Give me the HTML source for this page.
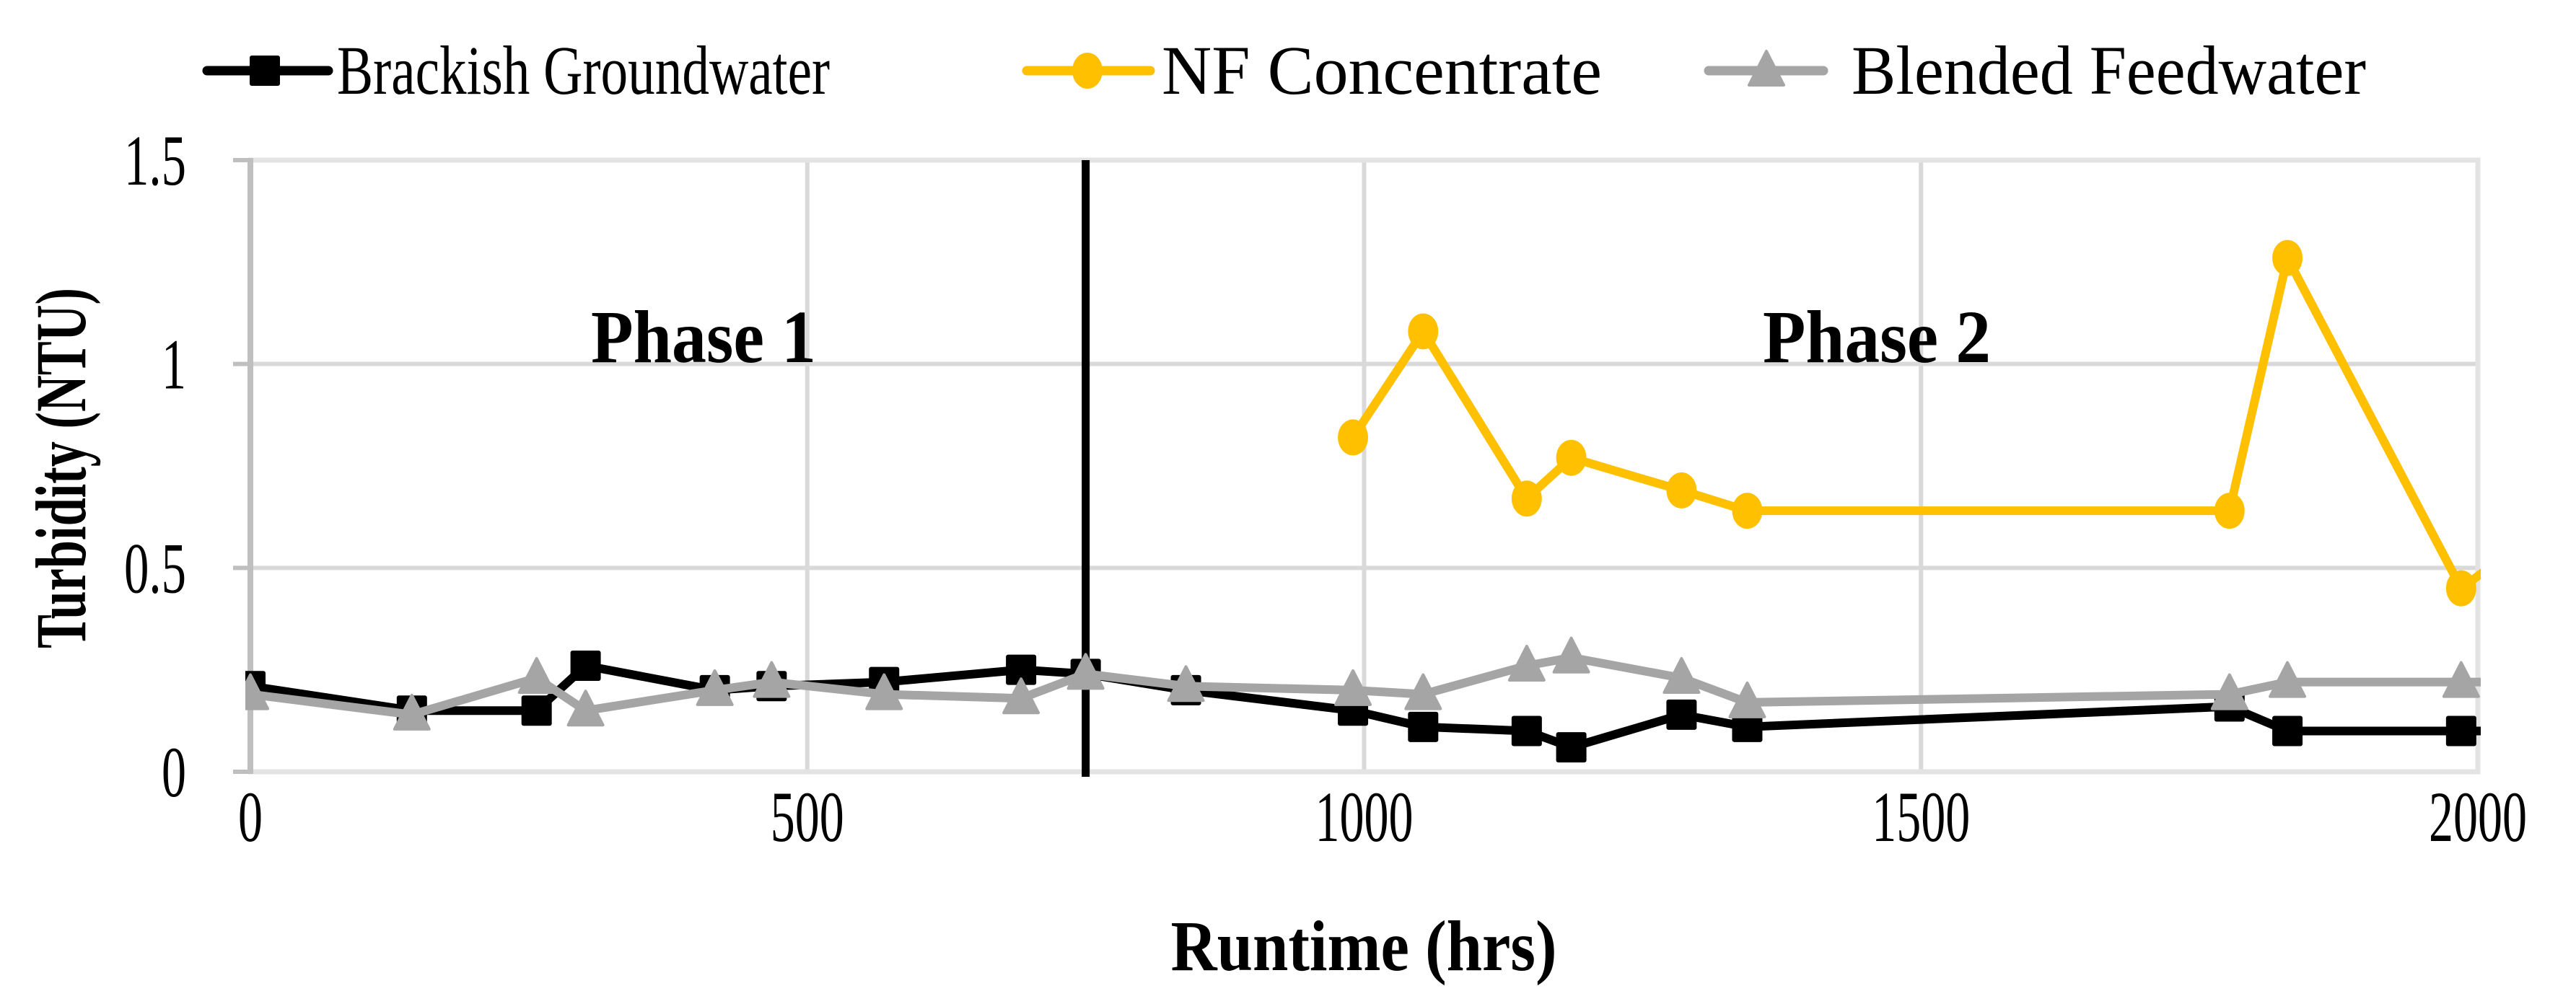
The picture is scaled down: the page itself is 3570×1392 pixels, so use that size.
<!DOCTYPE html>
<html><head><meta charset="utf-8"><style>
html,body{margin:0;padding:0;background:#fff;}
svg{display:block;}
text{font-family:"Liberation Serif",serif;}
</style></head><body>
<svg id="chart" width="3570" height="1392" viewBox="0 0 3570 1392">
<defs><clipPath id="plotclip"><rect x="340" y="215" width="3098" height="862"/></clipPath></defs>
<g id="grid"></g>
<g id="axes"></g>
<g id="series" clip-path="url(#plotclip)"></g>
<g id="labels"></g>
<g id="legend"></g>
</svg>
<script>
const xTicks = [0, 500, 1000, 1500, 2000];
const yTicks = [0, 0.5, 1, 1.5];
const yTickLabels = ["0", "0.5", "1", "1.5"];
const phaseBoundary = 750;
const bgX = [0,145,257,301,417,468,569,692,750,840,990,1053,1146,1186,1285,1344,1777,1829,1985,2040];
const bgY = [0.21,0.15,0.15,0.26,0.20,0.21,0.22,0.25,0.24,0.20,0.15,0.11,0.10,0.06,0.14,0.11,0.16,0.10,0.10,0.10];
const nfX = [990,1053,1146,1186,1285,1344,1777,1829,1985,2040];
const nfY = [0.82,1.08,0.67,0.77,0.69,0.64,0.64,1.26,0.45,0.56];
const blX = [0,145,257,301,417,468,569,692,750,840,990,1053,1146,1186,1285,1344,1777,1829,1985,2040];
const blY = [0.19,0.14,0.23,0.15,0.20,0.22,0.19,0.18,0.24,0.21,0.20,0.19,0.26,0.28,0.23,0.17,0.19,0.22,0.22,0.22];

const NS = "http://www.w3.org/2000/svg";
const X0 = 347, X1 = 3434, Y0 = 1070, Y1 = 222;
function sx(v){ return X0 + (v - 0) / 2000 * (X1 - X0); }
function sy(v){ return Y0 - v / 1.5 * (Y0 - Y1); }
function mk(tag, attrs, parent){
  const e = document.createElementNS(NS, tag);
  for (const k in attrs) e.setAttribute(k, attrs[k]);
  parent.appendChild(e);
  return e;
}
function numWidth(s){ let w = 0; for (const c of s) w += (c === '.') ? 18 : 34; return w; }
const grid = document.getElementById('grid');
const axes = document.getElementById('axes');
const series = document.getElementById('series');
const labels = document.getElementById('labels');
const legend = document.getElementById('legend');

yTicks.forEach((t, i) => {
  const l = mk('line', {x1: X0, x2: X1, y1: sy(t), y2: sy(t), stroke: '#d9d9d9', 'stroke-width': 6}, grid);
  
  
  const tk = mk('line', {x1: X0 - 24, x2: X0, y1: sy(t), y2: sy(t), stroke: '#bfbfbf', 'stroke-width': 6}, axes);
  
  
  const s = yTickLabels[i];
  const tx = mk('text', {x: 258, y: sy(t) + 34, 'text-anchor': 'end', 'font-size': 100, fill: '#000', textLength: numWidth(s), lengthAdjust: 'spacingAndGlyphs'}, labels);
  tx.textContent = s;
  
  
});
xTicks.forEach(t => {
  const l = mk('line', {x1: sx(t), x2: sx(t), y1: Y1, y2: Y0, stroke: '#d9d9d9', 'stroke-width': 6}, grid);
  
  
  const s = String(t);
  const tx = mk('text', {x: sx(t), y: 1166, 'text-anchor': 'middle', 'font-size': 100, fill: '#000', textLength: numWidth(s), lengthAdjust: 'spacingAndGlyphs'}, labels);
  tx.textContent = s;
  
  
});
const border = mk('rect', {x: X0, y: Y1, width: X1 - X0, height: Y0 - Y1, fill: 'none', stroke: '#e3e3e3', 'stroke-width': 7}, axes);


const yAxis = mk('line', {x1: X0, x2: X0, y1: Y1 - 3, y2: Y0 + 3, stroke: '#bfbfbf', 'stroke-width': 8}, axes);



const pb = mk('line', {x1: sx(phaseBoundary), x2: sx(phaseBoundary), y1: Y1, y2: Y0 + 8, stroke: '#000', 'stroke-width': 11}, series);



function marker(g, kind, cx, cy, color){
  if (kind === 'square') return mk('rect', {x: cx - 21, y: cy - 21, width: 42, height: 42, rx: 3, fill: color}, g);
  if (kind === 'circle') return mk('ellipse', {cx: cx, cy: cy, rx: 21, ry: 25, fill: color}, g);
  return mk('polygon', {points: cx + ',' + (cy - 27) + ' ' + (cx + 24) + ',' + (cy + 20) + ' ' + (cx - 24) + ',' + (cy + 20), fill: color, stroke: color, 'stroke-width': 4, 'stroke-linejoin': 'round'}, g);
}
function drawSeries(xs, ys, color, kind, name){
  const g = mk('g', {}, series);
  
  
  const pts = xs.map((x, i) => sx(x) + ',' + sy(ys[i])).join(' ');
  const pl = mk('polyline', {points: pts, fill: 'none', stroke: color, 'stroke-width': 12, 'stroke-linejoin': 'round'}, g);
  
  
  xs.forEach((x, i) => {
    const m = marker(g, kind, sx(x), sy(ys[i]), color);
    
    
  });
}
drawSeries(bgX, bgY, '#000000', 'square', 'brackish-groundwater');
drawSeries(blX, blY, '#a5a5a5', 'triangle', 'blended-feedwater');
drawSeries(nfX, nfY, '#ffc000', 'circle', 'nf-concentrate');

function txt(s, attrs, name){
  const t = mk('text', attrs, labels);
  t.textContent = s;
  
  
  return t;
}
txt('Phase 1', {x: 975, y: 502, 'text-anchor': 'middle', 'font-size': 104, 'font-weight': 'bold', textLength: 312, lengthAdjust: 'spacingAndGlyphs'}, 'phase-1-label');
txt('Phase 2', {x: 2601, y: 502, 'text-anchor': 'middle', 'font-size': 104, 'font-weight': 'bold', textLength: 316, lengthAdjust: 'spacingAndGlyphs'}, 'phase-2-label');
txt('Runtime (hrs)', {x: 1890, y: 1345, 'text-anchor': 'middle', 'font-size': 100, 'font-weight': 'bold', textLength: 535, lengthAdjust: 'spacingAndGlyphs'}, 'x-axis-title');
txt('Turbidity (NTU)', {x: 0, y: 0, 'text-anchor': 'middle', 'font-size': 100, 'font-weight': 'bold', transform: 'translate(118,649) rotate(-90)', textLength: 500, lengthAdjust: 'spacingAndGlyphs'}, 'y-axis-title');

const legItems = [
  {x1: 287, x2: 455, mx: 367, tx: 467, tw: 683, color: '#000000', m: 'square', label: 'Brackish Groundwater'},
  {x1: 1423, x2: 1594, mx: 1507, tx: 1610, tw: 610, color: '#ffc000', m: 'circle', label: 'NF Concentrate'},
  {x1: 2368, x2: 2527, mx: 2448, tx: 2566, tw: 713, color: '#a5a5a5', m: 'triangle', label: 'Blended Feedwater'}
];
legItems.forEach(it => {
  const g = mk('g', {}, legend);
  
  
  mk('line', {x1: it.x1, x2: it.x2, y1: 98, y2: 98, stroke: it.color, 'stroke-width': 13, 'stroke-linecap': 'round'}, g);
  marker(g, it.m, it.mx, 98, it.color);
  const t = mk('text', {x: it.tx, y: 130, 'font-size': 96, textLength: it.tw, lengthAdjust: 'spacingAndGlyphs'}, g);
  t.textContent = it.label;
});
</script>
</body></html>
